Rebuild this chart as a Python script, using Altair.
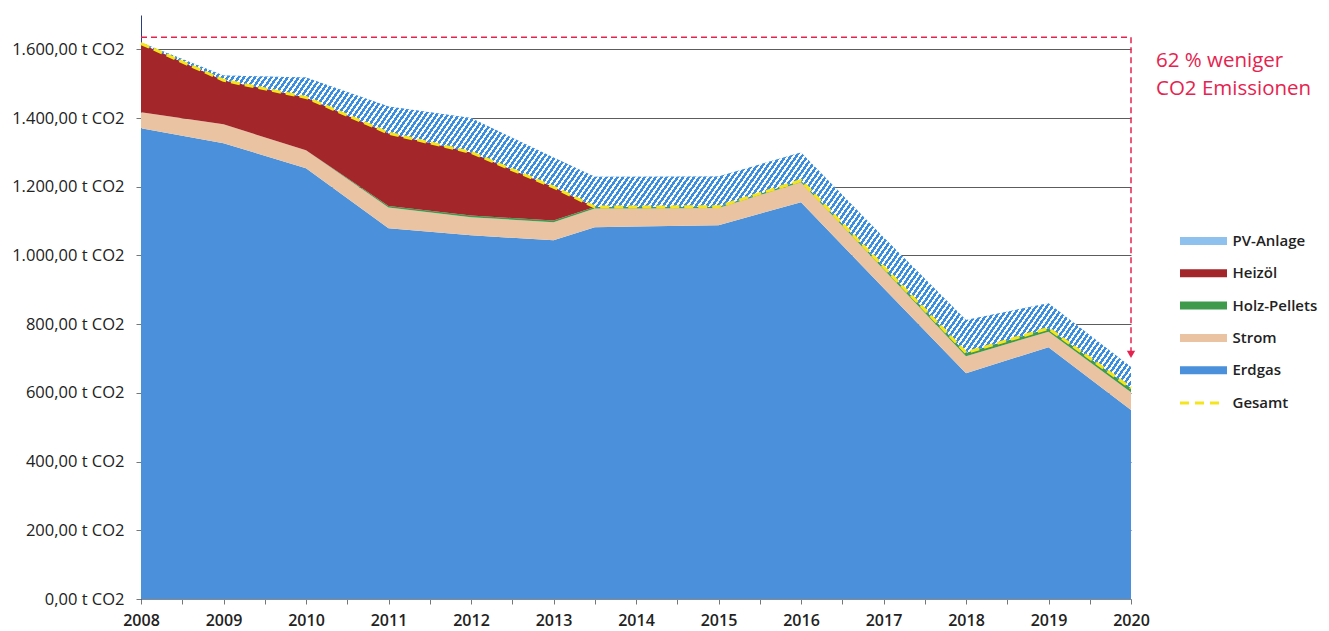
import altair as alt
import pandas as pd

# ---------------- data ----------------
years = [2008, 2009, 2010, 2011, 2012, 2013, 2013.5, 2014, 2015, 2016, 2017, 2018, 2019, 2020]
erdgas = [1370, 1327, 1254, 1079, 1059, 1044, 1082, 1084, 1088, 1155, 905, 657, 733, 550]
strom = [47, 55, 52, 61, 52, 53, 55, 53, 50, 58, 55, 50, 45, 52]
holz_pellets = [0, 0, 0, 4, 5, 5, 4, 4, 4, 5, 7, 10, 10, 12]
heizoel = [200, 128, 154, 212, 184, 97, 0, 0, 0, 0, 0, 0, 0, 0]
pv_anlage = [3, 14, 58, 78, 100, 86, 88, 88, 88, 82, 86, 95, 73, 61]

series_stack = ["Erdgas", "Strom", "Holz-Pellets", "Heizöl", "PV-Anlage"]
legend_order = ["PV-Anlage", "Heizöl", "Holz-Pellets", "Strom", "Erdgas"]
legend_colors = ["#8fc1ee", "#a3262a", "#3f9a4c", "#eac3a2", "#4a90da"]

y_ticks = [0, 200, 400, 600, 800, 1000, 1200, 1400, 1600]
x_ticks = [2008 + 0.5 * i for i in range(25)]

annot_start_year = [2008]
annot_end_year = [2020]
annot_top = [1635]
annot_bottom = [712]
annot_text = ["62 % weniger\nCO2 Emissionen"]

RED = "#e6234f"
FONT = "Open Sans"

# ---------------- build tables ----------------
values = {"Erdgas": erdgas, "Strom": strom, "Holz-Pellets": holz_pellets,
          "Heizöl": heizoel, "PV-Anlage": pv_anlage}
rows = []
for i, yr in enumerate(years):
    base = 0
    for s in series_stack:
        v = values[s][i]
        rows.append({"year": yr, "series": s, "lo": base, "hi": base + v})
        base += v
df = pd.DataFrame(rows)
df_pv = df[df.series == "PV-Anlage"]

gesamt = [erdgas[i] + strom[i] + holz_pellets[i] + heizoel[i] for i in range(len(years))]
df_g = pd.DataFrame({"year": years, "gesamt": gesamt, "name": ["Gesamt"] * len(years)})

df_a = pd.DataFrame({"x0": annot_start_year, "x1": annot_end_year,
                     "ytop": annot_top, "ybot": annot_bottom, "txt": annot_text})

# ---------------- shared scales / axes ----------------
x_scale = alt.Scale(domain=[2008, 2020], nice=False, zero=False)
y_scale = alt.Scale(domain=[0, 1700], nice=False)

x_axis = alt.Axis(values=x_ticks, title=None, grid=False,
                  labelExpr="datum.value % 1 === 0 ? format(datum.value, 'd') : ''",
                  labelOverlap=False, labelFlush=False,
                  labelFont=FONT, labelFontSize=16, labelFontWeight=600, labelColor="#222",
                  labelPadding=8, tickSize=5, tickColor="#777", domainColor="#8a8a8a")
y_axis = alt.Axis(values=y_ticks, title=None, grid=True, gridColor="#5c5c5c", gridWidth=1,
                  labelExpr="replace(replace(replace(format(datum.value, ',.2f'), ',', '#'), '.', ','), '#', '.') + ' t CO2'",
                  labelFont=FONT, labelFontSize=16.5, labelColor="#222", labelPadding=12,
                  tickSize=5, tickColor="#777", domainColor="#2a3f80")


def X(field):
    return alt.X(f"{field}:Q", scale=x_scale, axis=x_axis)


def Y(field):
    return alt.Y(f"{field}:Q", scale=y_scale, axis=y_axis, stack=None)


# ---------------- hatch gradient for PV-Anlage ----------------
n_stripes = 230
stops = []
for i in range(n_stripes):
    a = i / n_stripes
    b = (i + 0.55) / n_stripes
    c = (i + 1) / n_stripes
    stops += [alt.GradientStop(offset=a, color="#3b8de0"),
              alt.GradientStop(offset=b, color="#3b8de0"),
              alt.GradientStop(offset=b, color="#ffffff"),
              alt.GradientStop(offset=c, color="#ffffff")]
hatch = alt.LinearGradient(gradient="linear", stops=stops, x1=0, y1=0, x2=1.2, y2=0.293)

# ---------------- layers ----------------
areas = alt.Chart(df).mark_area(interpolate="linear").encode(
    x=X("year"), y=Y("lo"), y2="hi",
    fill=alt.Fill("series:N",
                  scale=alt.Scale(domain=legend_order, range=legend_colors),
                  legend=alt.Legend(title=None, orient="none", legendX=1052.5, legendY=216,
                                    symbolType="M-2.35,-0.4H2.35V0.4H-2.35Z", symbolSize=400,
                                    symbolStrokeWidth=0, symbolOpacity=1,
                                    labelFont=FONT, labelFontSize=15, labelFontWeight=600,
                                    labelColor="#222", labelOffset=19, rowPadding=14.3,
                                    padding=0)),
)

pv_hatch = alt.Chart(df_pv).mark_area(interpolate="linear", fill=hatch).encode(
    x=X("year"), y=Y("lo"), y2="hi")

line = alt.Chart(df_g).mark_line(strokeDash=[9, 5], strokeWidth=3).encode(
    x=X("year"), y=Y("gesamt"),
    stroke=alt.Stroke("name:N", scale=alt.Scale(domain=["Gesamt"], range=["#f5e51c"]),
                      legend=alt.Legend(title=None, orient="none", legendX=1049, legendY=376.5,
                                        symbolType="M-2.15,0H2.15", symbolSize=400,
                                        symbolStrokeWidth=3, symbolDash=[9, 6],
                                        labelFont=FONT, labelFontSize=15, labelFontWeight=600,
                                        labelColor="#222", labelOffset=19.5, padding=0)),
)

hrule = alt.Chart(df_a).mark_rule(color=RED, strokeDash=[6, 4], strokeWidth=1.5).encode(
    x=X("x0"), x2="x1", y=Y("ytop"))
vrule = alt.Chart(df_a).mark_rule(color=RED, strokeDash=[6, 4], strokeWidth=1.5).encode(
    x=X("x1"), y=Y("ytop"), y2="ybot")
arrow = alt.Chart(df_a).mark_point(shape="triangle-down", filled=True, size=70,
                                   color=RED, opacity=1).encode(x=X("x1"), y=Y("ybot"))
label = alt.Chart(df_a).mark_text(align="left", baseline="top", dx=25, dy=14,
                                  lineBreak="\n", lineHeight=28, font=FONT, fontSize=20.5,
                                  color=RED).encode(x=X("x1"), y=Y("ytop"), text="txt:N")

chart = alt.layer(areas, pv_hatch, line, hrule, vrule, arrow, label).properties(
    width=990, height=584,
    autosize=alt.AutoSizeParams(type="none"),
    padding={"left": 133, "top": 7, "right": 190, "bottom": 32},
).configure_view(stroke=None)

chart.save("out.html", embed_options={"renderer": "svg", "actions": False})
